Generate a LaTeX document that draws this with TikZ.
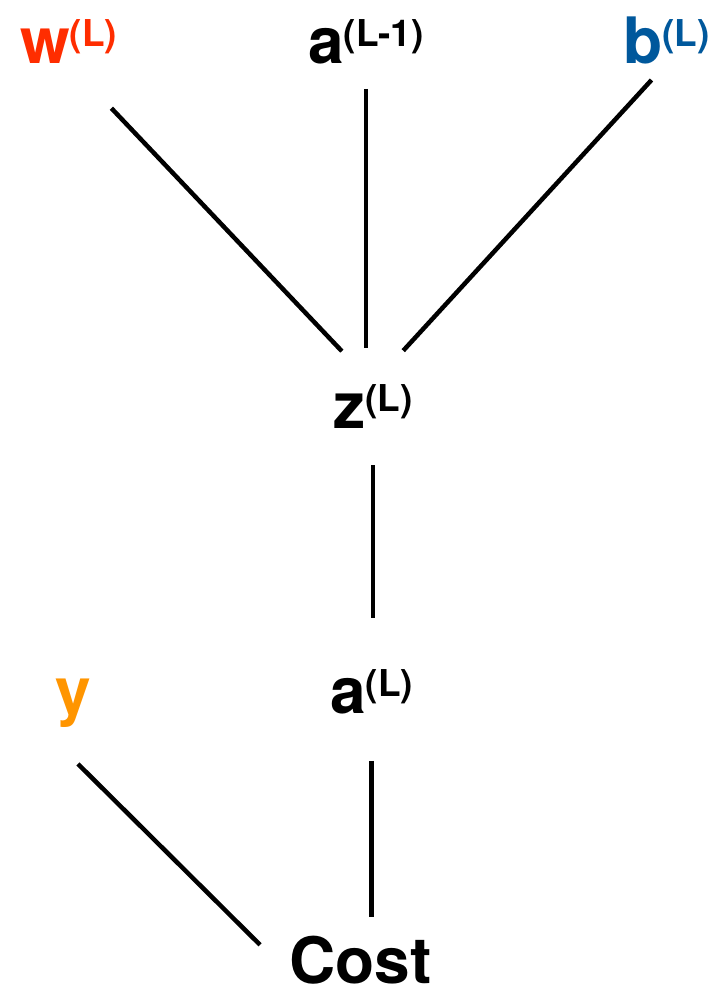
\documentclass[tikz,border=0pt]{standalone}
\usepackage{fontspec}
\setmainfont{TeX Gyre Heros}
\usepackage{xcolor}
\definecolor{wRed}{HTML}{FF2D00}
\definecolor{bBlue}{HTML}{00589C}
\definecolor{yOrange}{HTML}{FF9500}
\newcommand{\upidx}[1]{\raisebox{17pt}{\fontsize{37}{37}\selectfont #1}}

\begin{document}
\begin{tikzpicture}[x=1pt, y=-1pt,
  lbl/.style={anchor=base west, inner sep=0pt, font=\fontsize{64}{70}\selectfont\bfseries},
  link/.style={line width=4.5pt}]
  \useasboundingbox[fill=white] (0,0) rectangle (717,991);
  \node[lbl, text=wRed] (w) at (20,63) {w\upidx{(L)}};
  \node[lbl] (aLm) at (308,63) {a\upidx{(L-1)}};
  \node[lbl, text=bBlue] (b) at (623,63) {b\upidx{(L)}};
  \node[lbl] (z) at (333,428) {z\upidx{(L)}};
  \node[lbl] (aL) at (330,713) {a\upidx{(L)}};
  \node[lbl, text=yOrange] (y) at (55,713) {y};
  \node[lbl] (cost) at (289,983) {Cost};
  \draw[link, shorten <=62pt, shorten >=45pt] (w.south) -- (z.north);
  \draw[link, shorten <=25pt, shorten >=36pt] (aLm.south) -- (aLm.south |- z.north);
  \draw[link, shorten <=22pt, shorten >=45pt] (b.south) -- (z.north);
  \draw[link, shorten <=37pt, shorten >=51pt] (z.south) -- (z.south |- aL.north);
  \draw[link, shorten <=52pt, shorten >=21pt] ([xshift=-14pt]y.south west) -- ([xshift=-14pt]cost.west);
  \draw[link, shorten <=47pt, shorten >=18pt] (aL.south) -- (aL.south |- cost.north);
\end{tikzpicture}
\end{document}
